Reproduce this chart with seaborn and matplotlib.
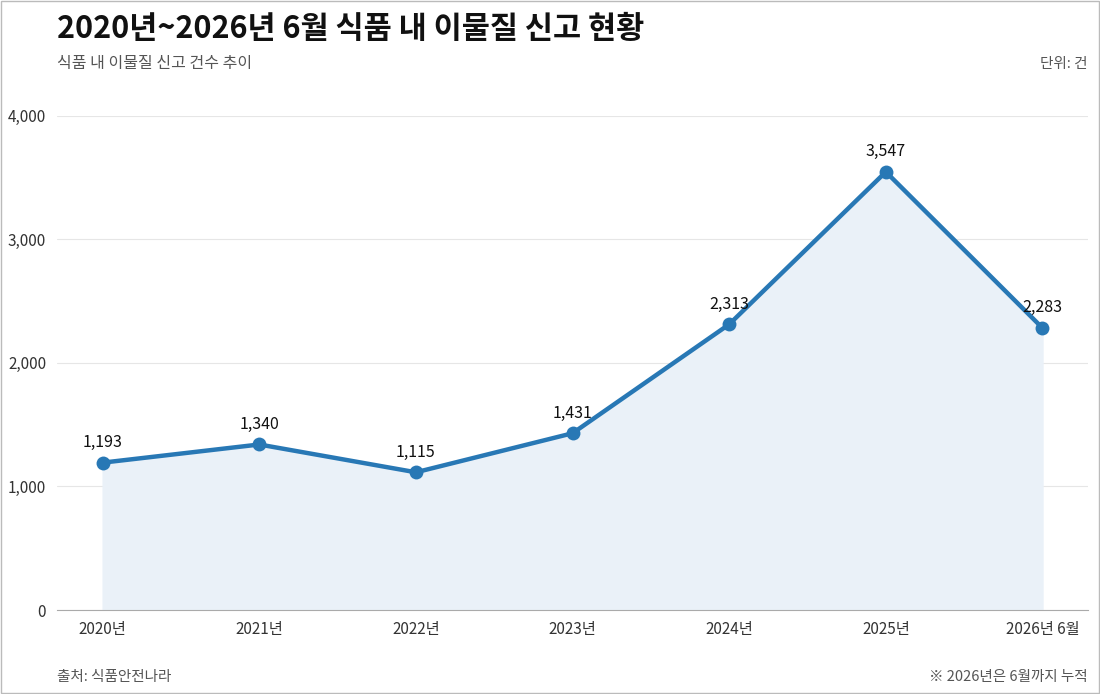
import matplotlib
matplotlib.use("Agg")
import matplotlib.pyplot as plt
import seaborn as sns
import pandas as pd
from matplotlib.patches import Rectangle

years = ["2020년", "2021년", "2022년", "2023년", "2024년", "2025년", "2026년 6월"]
counts = [1193, 1340, 1115, 1431, 2313, 3547, 2283]

sns.set_style("white")
plt.rcParams['font.family'] = ['Noto Sans CJK KR', 'DejaVu Sans']

df = pd.DataFrame({"x": range(len(years)), "count": counts})

fig = plt.figure(figsize=(11, 6.94), dpi=100)
ax = fig.add_axes([0.052, 0.121, 0.937, 0.712])

line_color = "#2878b5"
ax.fill_between(df["x"], df["count"], 0, color="#eaf1f8", zorder=1)
sns.lineplot(data=df, x="x", y="count", ax=ax, color=line_color, linewidth=3.2,
             marker="o", markersize=10, markeredgewidth=0, zorder=3)
for x, v in zip(df["x"], df["count"]):
    ax.text(x, v + 95, f"{v:,}", ha="center", va="bottom", fontsize=11.5, color="#111111")

ax.set_xlim(-0.29, 6.29)
ax.set_ylim(0, 4000)
ax.set_yticks([0, 1000, 2000, 3000, 4000])
ax.set_yticklabels([f"{v:,}" for v in [0, 1000, 2000, 3000, 4000]])
ax.set_xticks(df["x"])
ax.set_xticklabels(years)
ax.tick_params(axis="both", labelsize=11, colors="#333333", length=0, pad=8)
ax.yaxis.grid(True, color="#e6e6e6", linewidth=0.8)
ax.set_axisbelow(True)
for s in ["top", "right", "left"]:
    ax.spines[s].set_visible(False)
ax.spines["bottom"].set_color("#aaaaaa")
ax.set_xlabel("")
ax.set_ylabel("")

fig.text(0.052, 0.958, "2020년~2026년 6월 식품 내 이물질 신고 현황", fontsize=22,
         fontweight="bold", va="center", ha="left", color="#111111")
fig.text(0.052, 0.908, "식품 내 이물질 신고 건수 추이", fontsize=11.5, va="center", color="#555555")
fig.text(0.989, 0.908, "단위: 건", fontsize=10.5, va="center", ha="right", color="#555555")
fig.text(0.052, 0.025, "출처: 식품안전나라", fontsize=10.5, va="center", color="#555555")
fig.text(0.989, 0.025, "※ 2026년은 6월까지 누적", fontsize=10.5, va="center", ha="right", color="#555555")

fig.patches.append(Rectangle((0.001, 0.001), 0.998, 0.998, transform=fig.transFigure,
                             fill=False, edgecolor="#bbbbbb", linewidth=1))

fig.savefig("out.png", dpi=100)
